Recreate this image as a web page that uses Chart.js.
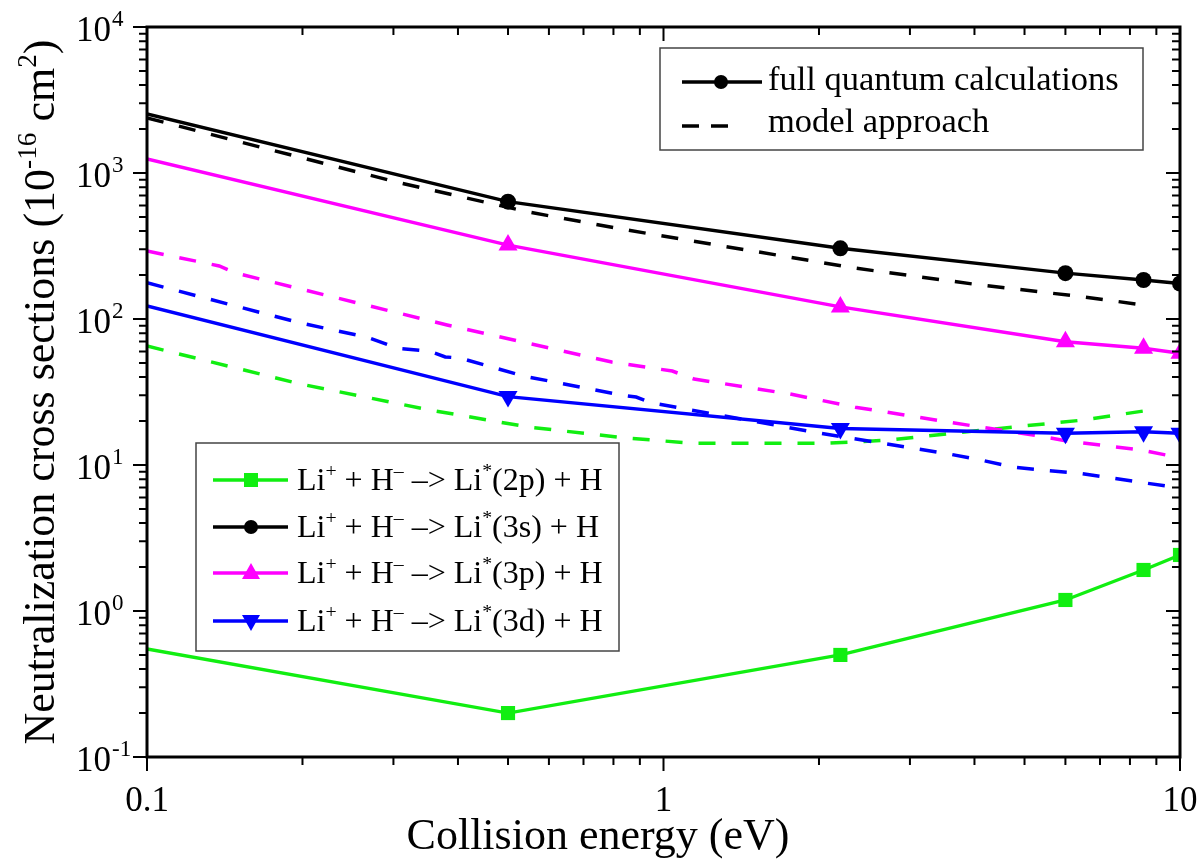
<!DOCTYPE html>
<html>
<head>
<meta charset="utf-8">
<script src="https://cdn.jsdelivr.net/npm/chart.js@4.4.1/dist/chart.umd.min.js"></script>
<style>
html, body { margin: 0; padding: 0; background: #fff; }
#wrap { width: 1200px; height: 860px; }
</style>
</head>
<body>
<div id="wrap"><canvas id="chart" width="1200" height="860"></canvas></div>
<script>
// full quantum calculations (solid lines with markers)
var xFull = [0.1, 0.5, 2.2, 6, 8.5, 10];
var full2p = [0.55, 0.2, 0.5, 1.19, 1.91, 2.42];
var full3s = [2535, 636, 305, 206, 185, 175];
var full3p = [1248, 321, 121, 69.8, 63, 58.2];
var full3d = [123, 29.4, 17.8, 16.5, 16.9, 16.5];

// model approach (dashed lines)
var xModel3s = [0.1, 0.2, 0.309, 0.547, 0.849, 2.35, 4.1, 6.48, 8.75];
var model3s = [2384, 1268, 855, 541, 407, 223, 171, 142, 123];
var xModel3p = [0.1, 0.138, 0.148, 0.381, 0.794, 1.04, 1.146, 1.76, 2.35, 4.1, 5.24, 6.04, 8.37, 10];
var model3p = [292, 231, 207, 91, 50.7, 44, 38.8, 30.6, 24.9, 18.2, 16, 14.6, 12.7, 11.2];
var xModel3d = [0.1, 0.198, 0.267, 0.306, 0.353, 0.378, 0.404, 0.535, 0.832, 0.885, 0.951, 1.99, 3.57, 4.12, 4.73, 5.46, 6.35, 10];
var model3d = [177, 94, 75, 63, 60, 55, 54, 40.7, 30.1, 29.2, 26.6, 16.6, 11.9, 10.8, 9.7, 9.2, 8.8, 6.95];
var xModel2p = [0.1, 0.198, 0.353, 0.547, 0.849, 1.135, 2.03, 2.35, 2.71, 4.19, 6.48, 8.75];
var model2p = [65.3, 35.9, 23.8, 18.2, 15.3, 14.1, 14.1, 14.4, 14.8, 17.4, 20.3, 23.8];

// ticks
var xTickMajor = [0.1, 1, 10];
var xTickLabels = ['0.1', '1', '10'];
var yTickExp = [-1, 0, 1, 2, 3, 4];
var minorMantissa = [2, 3, 4, 5, 6, 7, 8, 9];

// legend
var states = ['2p', '3s', '3p', '3d'];
var stateColors = ['#11ee11', '#000000', '#ff00ff', '#0000ff'];
var stateMarkers = ['rect', 'circle', 'up', 'down'];

var SERIF = '"Liberation Serif", "Times New Roman", serif';
function font(px) { return px + 'px ' + SERIF; }

function series(xv, yv) {
	return xv.map(function (x, i) { return { x: x, y: yv[i] }; });
}

function hideAtEdge(r) {
	return function (c) { return c.raw && c.raw.x <= 0.1 ? 0 : r; };
}

function solid(data, color, style, r, rot) {
	return {
		data: data, borderColor: color, backgroundColor: color,
		pointBackgroundColor: color, pointBorderWidth: 0,
		borderWidth: 3.4, pointStyle: style, pointRadius: hideAtEdge(r),
		pointRotation: rot || 0, clip: 0
	};
}

function dashed(data, color) {
	return {
		data: data, borderColor: color, borderWidth: 3.5,
		borderDash: [17, 16], pointRadius: 0, clip: 0
	};
}

function drawRich(ctx, parts, x, y, size, align) {
	var w = 0;
	parts.forEach(function (p) {
		ctx.font = font(p[1] ? size * 0.62 : size);
		w += ctx.measureText(p[0]).width;
	});
	var cx = align === 'center' ? x - w / 2 : (align === 'right' ? x - w : x);
	ctx.textAlign = 'left';
	ctx.textBaseline = 'alphabetic';
	parts.forEach(function (p) {
		ctx.font = font(p[1] ? size * 0.62 : size);
		ctx.fillText(p[0], cx, p[1] ? y - size * 0.42 : y);
		cx += ctx.measureText(p[0]).width;
	});
}

function marker(ctx, style, x, y, color) {
	ctx.fillStyle = color;
	ctx.beginPath();
	if (style === 'rect') ctx.rect(x - 7, y - 7, 14, 14);
	else if (style === 'circle') ctx.arc(x, y, 7, 0, 2 * Math.PI);
	else if (style === 'up') { ctx.moveTo(x, y - 10); ctx.lineTo(x + 9, y + 6); ctx.lineTo(x - 9, y + 6); }
	else { ctx.moveTo(x, y + 10); ctx.lineTo(x + 9, y - 6); ctx.lineTo(x - 9, y - 6); }
	ctx.closePath();
	ctx.fill();
}

var frame = {
	id: 'frame',
	afterDatasetsDraw: function (chart) {
		var ctx = chart.ctx, a = chart.chartArea;
		var xs = chart.scales.x, ys = chart.scales.y;
		ctx.save();
		ctx.strokeStyle = '#000';
		ctx.lineWidth = 2;
		ctx.beginPath();
		// y ticks: outward on left, inward on right
		yTickExp.forEach(function (e, i) {
			var base = Math.pow(10, e);
			var p = ys.getPixelForValue(base);
			ctx.moveTo(a.left, p); ctx.lineTo(a.left - 14, p);
			ctx.moveTo(a.right, p); ctx.lineTo(a.right - 14, p);
			if (i < yTickExp.length - 1) {
				minorMantissa.forEach(function (m) {
					var q = ys.getPixelForValue(m * base);
					ctx.moveTo(a.left, q); ctx.lineTo(a.left - 8, q);
					ctx.moveTo(a.right, q); ctx.lineTo(a.right - 8, q);
				});
			}
		});
		// x ticks: outward at bottom, inward at top
		xTickMajor.forEach(function (v, i) {
			var p = xs.getPixelForValue(v);
			ctx.moveTo(p, a.bottom); ctx.lineTo(p, a.bottom + 14);
			ctx.moveTo(p, a.top); ctx.lineTo(p, a.top + 14);
			if (i < xTickMajor.length - 1) {
				minorMantissa.forEach(function (m) {
					var q = xs.getPixelForValue(m * v);
					ctx.moveTo(q, a.bottom); ctx.lineTo(q, a.bottom + 8);
					ctx.moveTo(q, a.top); ctx.lineTo(q, a.top + 8);
				});
			}
		});
		ctx.stroke();
		ctx.lineWidth = 3;
		ctx.strokeRect(a.left, a.top, a.right - a.left, a.bottom - a.top);

		// tick labels
		ctx.fillStyle = '#000';
		ctx.textBaseline = 'alphabetic';
		xTickMajor.forEach(function (v, i) {
			ctx.font = font(35);
			ctx.textAlign = 'center';
			ctx.fillText(xTickLabels[i], xs.getPixelForValue(v), 811);
		});
		yTickExp.forEach(function (e) {
			var p = ys.getPixelForValue(Math.pow(10, e));
			ctx.font = font(35);
			ctx.textAlign = 'right';
			ctx.fillText('10', 111, p + 14);
			ctx.font = font(23);
			ctx.textAlign = 'left';
			ctx.fillText(String(e), 112, p - 1);
		});

		// axis titles
		drawRich(ctx, [['Collision energy (eV)', 0]], 598, 849, 44, 'center');
		ctx.save();
		ctx.translate(54, 392);
		ctx.rotate(-Math.PI / 2);
		drawRich(ctx, [['Neutralization cross sections (10', 0], ['-16', 1], [' cm', 0], ['2', 1], [')', 0]], 0, 0, 44, 'center');
		ctx.restore();

		// top-right legend
		ctx.fillStyle = '#fff';
		ctx.fillRect(660, 48, 483, 102);
		ctx.strokeStyle = '#444';
		ctx.lineWidth = 1.5;
		ctx.strokeRect(660, 48, 483, 102);
		ctx.strokeStyle = '#000';
		ctx.lineWidth = 3.4;
		ctx.beginPath(); ctx.moveTo(682, 82); ctx.lineTo(762, 82); ctx.stroke();
		marker(ctx, 'circle', 721, 82, '#000');
		ctx.lineWidth = 3.5;
		ctx.setLineDash([17, 12]);
		ctx.beginPath(); ctx.moveTo(682, 126); ctx.lineTo(728, 126); ctx.stroke();
		ctx.setLineDash([]);
		ctx.fillStyle = '#000';
		drawRich(ctx, [['full quantum calculations', 0]], 768, 90, 34.5, 'left');
		drawRich(ctx, [['model approach', 0]], 768, 132, 34.5, 'left');

		// lower-left legend
		ctx.fillStyle = '#fff';
		ctx.fillRect(196, 443, 423, 208);
		ctx.strokeStyle = '#444';
		ctx.lineWidth = 1.5;
		ctx.strokeRect(196, 443, 423, 208);
		var rowY = [480, 527, 573, 621];
		states.forEach(function (s, i) {
			var y = rowY[i];
			ctx.strokeStyle = stateColors[i];
			ctx.lineWidth = 3.4;
			ctx.beginPath(); ctx.moveTo(213, y); ctx.lineTo(288, y); ctx.stroke();
			marker(ctx, stateMarkers[i], 251, y, stateColors[i]);
			ctx.fillStyle = '#000';
			drawRich(ctx, [['Li', 0], ['+', 1], [' + H', 0], ['\u2013', 1], [' \u2013> Li', 0], ['*', 1], ['(' + s + ') + H', 0]], 297, y + 10, 32, 'left');
		});
		ctx.restore();
	}
};

var ctx = document.getElementById('chart').getContext('2d');
var chart = new Chart(ctx, {
	type: 'line',
	data: {
		datasets: [
			solid(series(xFull, full3s), '#000000', 'circle', 8),
			solid(series(xFull, full3p), '#ff00ff', 'triangle', 11),
			solid(series(xFull, full3d), '#0000ff', 'triangle', 11, 180),
			solid(series(xFull, full2p), '#11ee11', 'rect', 10),
			dashed(series(xModel3s, model3s), '#000000'),
			dashed(series(xModel3p, model3p), '#ff00ff'),
			dashed(series(xModel3d, model3d), '#0000ff'),
			dashed(series(xModel2p, model2p), '#11ee11')
		]
	},
	options: {
		responsive: false,
		animation: false,
		devicePixelRatio: 1,
		layout: { padding: { top: 27, right: 20, left: 0, bottom: 0 } },
		plugins: { legend: { display: false }, tooltip: { enabled: false } },
		elements: { line: { tension: 0 } },
		scales: {
			x: {
				type: 'logarithmic', min: 0.1, max: 10,
				ticks: { display: false }, grid: { display: false }, border: { display: false },
				afterFit: function (s) { s.height = 103; }
			},
			y: {
				type: 'logarithmic', min: 0.1, max: 10000,
				ticks: { display: false }, grid: { display: false }, border: { display: false },
				afterFit: function (s) { s.width = 147; }
			}
		}
	},
	plugins: [frame]
});
</script>
</body>
</html>
